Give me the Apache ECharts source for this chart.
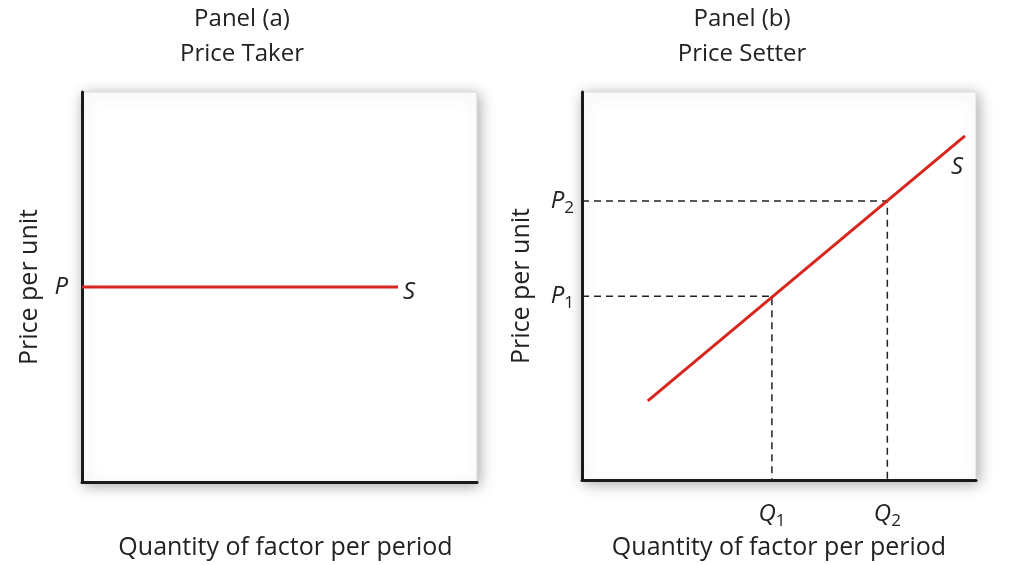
<!DOCTYPE html>
<html><head><meta charset="utf-8">
<script src="https://cdn.jsdelivr.net/npm/echarts@6/dist/echarts.min.js"></script>
<style>html,body{margin:0;padding:0;background:#fff}#c{width:1011px;height:565px}</style>
</head><body><div id="c"></div>
<script>
// Panel (a): price taker – horizontal supply at P
var priceA = 5;
var supplyAX = [0, 8];
// Panel (b): price setter – upward-sloping supply
var supplyBX = [1.67, 9.72];
var supplyBY = [2.04, 8.87];
var qTicks = [4.82, 7.75];
var pTicks = [4.74, 7.19];
var qNames = ['1', '2'];
var pNames = ['1', '2'];
var titles = ['Panel (a)\nPrice Taker', 'Panel (b)\nPrice Setter'];
var xName = 'Quantity of factor per period';
var yName = 'Price per unit';

var FONT = '"Open Sans", sans-serif';
var RED = '#d8261f';
var rich = {
  i: {fontFamily: FONT, fontStyle: 'italic', fontSize: 24, color: '#222'},
  s: {fontFamily: FONT, fontSize: 17, color: '#222', padding: [14, 0, 0, 0]}
};
var gridBase = {top: 92, height: 394, show: true, backgroundColor: '#fff', borderColor: '#d8d8d8', borderWidth: 1,
  shadowBlur: 14, shadowColor: 'rgba(0,0,0,0.35)', shadowOffsetX: 2, shadowOffsetY: 3, containLabel: false};

function axisLine() { return {show: true, onZero: false, lineStyle: {color: '#1a1a1a', width: 3}}; }

var seriesA = [{
  type: 'line', xAxisIndex: 0, yAxisIndex: 0, symbol: 'none', animation: false,
  lineStyle: {color: RED, width: 3},
  endLabel: {show: true, distance: 5, offset: [0, 5], formatter: '{i|S}', rich: rich},
  data: supplyAX.map(function (x) { return [x, priceA]; })
}];
var dashed = [0, 1].map(function (k) {
  return {type: 'line', xAxisIndex: 1, yAxisIndex: 1, symbol: 'none', animation: false, z: 1,
    lineStyle: {color: '#222', width: 1.5, type: [7, 5]},
    data: [[0, pTicks[k]], [qTicks[k], pTicks[k]], [qTicks[k], 0]]};
});
var seriesB = dashed.concat([{
  type: 'line', xAxisIndex: 1, yAxisIndex: 1, symbol: 'none', animation: false, z: 3,
  lineStyle: {color: RED, width: 3},
  endLabel: {show: true, distance: 5, offset: [-19, 31], formatter: '{i|S}', rich: rich},
  data: supplyBX.map(function (x, k) { return [x, supplyBY[k]]; })
}]);

var titleStyle = {fontFamily: FONT, fontWeight: 'normal', fontSize: 24, lineHeight: 35, color: '#222'};
var option = {
  backgroundColor: '#fff',
  animation: false,
  title: [
    {text: titles[0], left: 242, top: 2, padding: 0, textAlign: 'center', textStyle: titleStyle},
    {text: titles[1], left: 742, top: 2, padding: 0, textAlign: 'center', textStyle: titleStyle}
  ],
  grid: [
    Object.assign({left: 82, width: 395}, gridBase),
    Object.assign({left: 582, width: 394}, gridBase)
  ],
  xAxis: [
    {type: 'value', gridIndex: 0, min: 0, max: 10, axisLine: axisLine(), axisTick: {show: false}, splitLine: {show: false},
     axisLabel: {show: false}, name: xName, nameLocation: 'middle', nameGap: 53,
     nameTextStyle: {fontFamily: FONT, fontSize: 25, color: '#222', padding: [0, 0, 0, 12]}},
    {type: 'value', gridIndex: 1, min: 0, max: 10, axisLine: axisLine(), axisTick: {show: false}, splitLine: {show: false},
     axisLabel: {show: true, customValues: qTicks, margin: 19, formatter: function (v) { return '{i|Q}{s|' + qNames[qTicks.indexOf(v)] + '}'; }, rich: rich},
     name: xName, nameLocation: 'middle', nameGap: 53,
     nameTextStyle: {fontFamily: FONT, fontSize: 25, color: '#222', padding: [0, 0, 0, 0]}}
  ],
  yAxis: [
    {type: 'value', gridIndex: 0, min: 0, max: 10, axisLine: axisLine(), axisTick: {show: false}, splitLine: {show: false},
     axisLabel: {show: true, customValues: [priceA], margin: 14, formatter: function () { return '{i|P}'; }, rich: rich},
     name: yName, nameLocation: 'middle', nameGap: 40,
     nameTextStyle: {fontFamily: FONT, fontSize: 25, color: '#222'}},
    {type: 'value', gridIndex: 1, min: 0, max: 10, axisLine: axisLine(), axisTick: {show: false}, splitLine: {show: false},
     axisLabel: {show: true, customValues: pTicks, margin: 8, formatter: function (v) { return '{i|P}{s|' + pNames[pTicks.indexOf(v)] + '}'; }, rich: rich},
     name: yName, nameLocation: 'middle', nameGap: 48,
     nameTextStyle: {fontFamily: FONT, fontSize: 25, color: '#222'}}
  ],
  series: seriesA.concat(seriesB)
};
echarts.init(document.getElementById('c')).setOption(option);
</script></body></html>
